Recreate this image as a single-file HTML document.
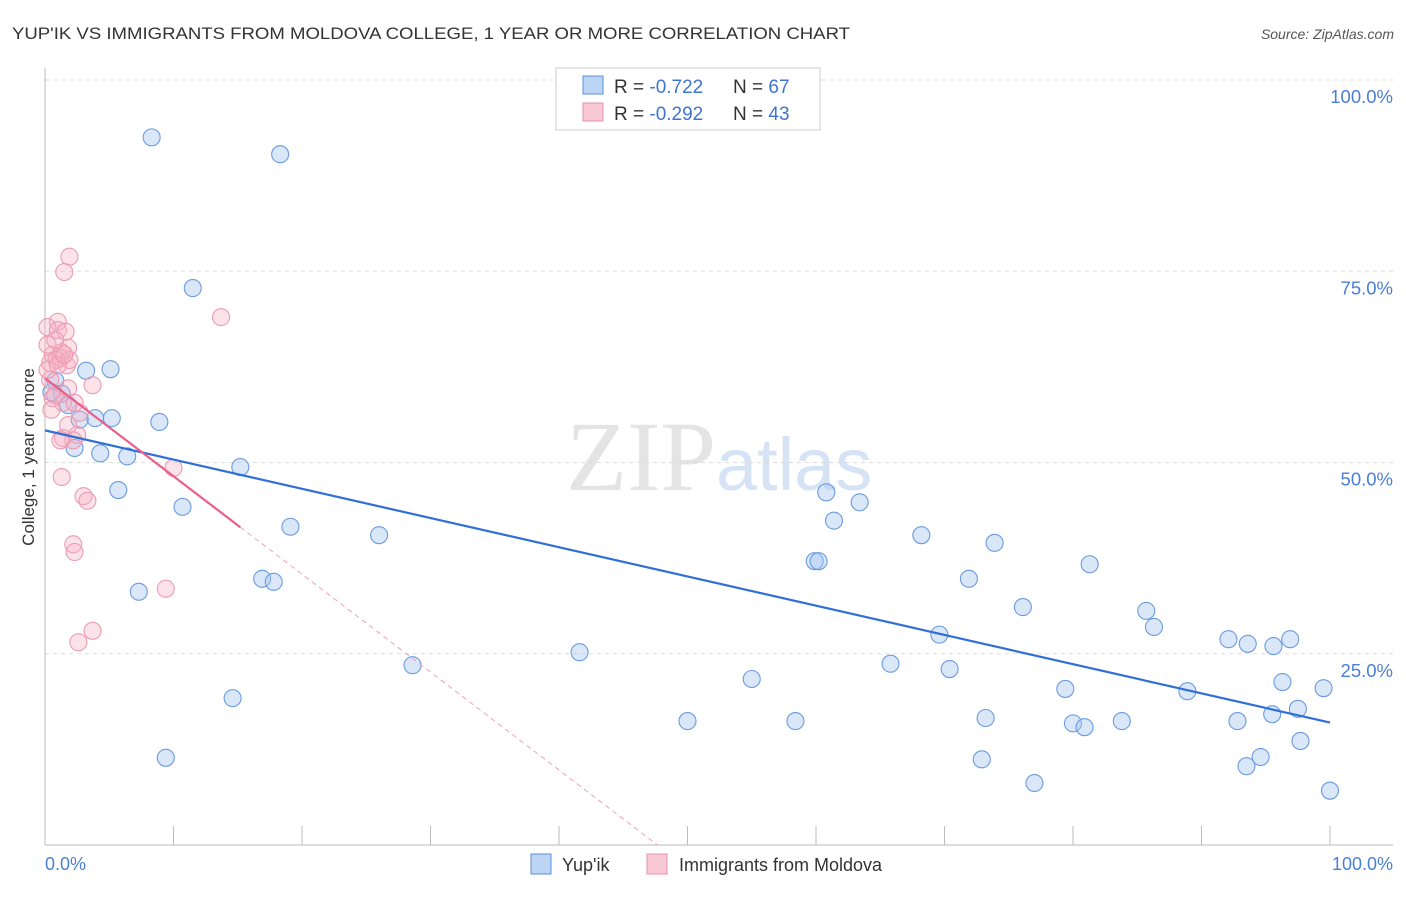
<!DOCTYPE html>
<html><head><meta charset="utf-8"><style>
body{margin:0;background:#fff;font-family:"Liberation Sans",sans-serif;}
</style></head><body>
<svg width="1406" height="892" xmlns="http://www.w3.org/2000/svg" id="chart">
<text x="12" y="39" font-size="17" fill="#333" textLength="838" lengthAdjust="spacingAndGlyphs">YUP'IK VS IMMIGRANTS FROM MOLDOVA COLLEGE, 1 YEAR OR MORE CORRELATION CHART</text>
<text x="1394" y="39" font-size="14" fill="#555" font-style="italic" text-anchor="end">Source: ZipAtlas.com</text>
<text x="716" y="490" font-size="100" fill="#e4e4e4" font-family="Liberation Serif,serif" text-anchor="end">ZIP</text>
<text x="716" y="490" font-size="74" fill="#d6e3f5">atlas</text>
<g id="grid"></g>
<line x1="45" y1="68" x2="45" y2="845" stroke="#bbb"/>
<line x1="45" y1="845" x2="1393" y2="845" stroke="#bbb"/>
<text x="34" y="457" font-size="17" fill="#333" text-anchor="middle" transform="rotate(-90 34 457)">College, 1 year or more</text>
<text x="45" y="870" font-size="18" fill="#4a7fd6">0.0%</text>
<text x="1393" y="870" font-size="18" fill="#4a7fd6" text-anchor="end">100.0%</text>
<g id="pts"></g>
<g id="trends"></g>
<g>
<rect x="556" y="68" width="264" height="62" fill="#fff" stroke="#ccc"/>
<rect x="583" y="76" width="20" height="18" fill="#bcd5f5" stroke="#5a8fd8"/>
<text x="614" y="93" font-size="19" fill="#333">R = <tspan fill="#3f74d0">-0.722</tspan></text>
<text x="733" y="93" font-size="19" fill="#333">N = <tspan fill="#3f74d0">67</tspan></text>
<rect x="583" y="103" width="20" height="18" fill="#f9c8d6" stroke="#e890a8"/>
<text x="614" y="120" font-size="19" fill="#333">R = <tspan fill="#3f74d0">-0.292</tspan></text>
<text x="733" y="120" font-size="19" fill="#333">N = <tspan fill="#3f74d0">43</tspan></text>
</g>
<g>
<rect x="531" y="854" width="20" height="20" fill="#bcd5f5" stroke="#5a8fd8"/>
<text x="562" y="871" font-size="18" fill="#333">Yup'ik</text>
<rect x="647" y="854" width="20" height="20" fill="#f9c8d6" stroke="#e890a8"/>
<text x="679" y="871" font-size="18" fill="#333">Immigrants from Moldova</text>
</g>
</svg>
<script>
const yTicks=[25,50,75,100];
const yTickLabels=["25.0%","50.0%","75.0%","100.0%"];
const xTicks=[0,10,20,30,40,50,60,70,80,90,100];
const blueX=[8.3,18.3,11.5,5.1,3.2,0.8,1.3,1.8,3.9,5.2,2.7,8.9,4.3,6.4,2.3,15.2,5.7,10.7,19.1,26.0,7.3,16.9,17.8,14.6,9.4,28.6,41.6,55.0,50.0,58.4,60.8,63.4,61.4,59.9,60.2,68.2,73.9,71.9,81.3,76.1,69.6,65.8,70.4,85.7,86.3,79.4,88.9,73.2,80.0,80.9,83.8,72.9,77.0,92.1,93.6,95.6,96.9,96.3,99.5,95.5,97.5,92.8,97.7,94.6,93.5,100,0.5];
const blueY=[92.5,90.3,72.8,62.2,62.0,60.7,59.0,57.5,55.8,55.8,55.6,55.3,51.2,50.8,51.9,49.4,46.4,44.2,41.6,40.5,33.1,34.8,34.4,19.2,11.4,23.5,25.2,21.7,16.2,16.2,46.1,44.8,42.4,37.1,37.1,40.5,39.5,34.8,36.7,31.1,27.5,23.7,23.0,30.6,28.5,20.4,20.1,16.6,15.9,15.4,16.2,11.2,8.1,26.9,26.3,26.0,26.9,21.3,20.5,17.1,17.8,16.2,13.6,11.5,10.3,7.1,59.2];
const pinkX=[1.9,1.5,13.7,1.0,0.2,1.0,1.8,0.6,1.2,0.4,1.7,3.7,1.8,0.6,1.4,2.7,2.5,1.4,2.2,10.0,1.3,3.0,3.3,2.2,2.3,9.4,3.7,2.6,0.2,0.4,0.8,1.2,1.3,0.9,1.6,0.2,1.9,2.3,0.5,1.0,1.5,0.8,1.8];
const pinkY=[76.9,74.9,69.0,68.4,67.7,67.3,65.0,64.1,63.7,63.0,62.7,60.1,59.7,58.4,57.8,56.5,53.6,53.2,52.9,49.3,48.1,45.6,45.0,39.3,38.3,33.5,28.0,26.5,65.4,60.8,58.8,52.9,64.4,63.4,67.1,62.1,63.4,57.8,56.9,62.7,64.1,66.0,54.9];
const blueTrend=[54.2,16.0];
const pinkTrend=[61.0,-1.28];
const pinkSolidEnd=15.2;
const NS="http://www.w3.org/2000/svg";
const sx=v=>45+v*12.85, sy=v=>845-v*7.65;
function mk(tag,attrs,parent){const e=document.createElementNS(NS,tag);for(const k in attrs)e.setAttribute(k,attrs[k]);parent.appendChild(e);return e;}
const grid=document.getElementById('grid');
yTicks.forEach((t,i)=>{
 const l=mk('line',{x1:45,x2:1393,y1:sy(t),y2:sy(t),stroke:'#ddd','stroke-dasharray':'4,4'},grid);
 
 
 const tx=mk('text',{x:1393,y:sy(t)+23,'font-size':18.5,fill:'#4a7fd6','text-anchor':'end'},grid);
 tx.textContent=yTickLabels[i];
 
 
});
xTicks.forEach(t=>{
 const l=mk('line',{x1:sx(t),x2:sx(t),y1:826,y2:845,stroke:'#bbb'},grid);
 
 
});
const pts=document.getElementById('pts');
blueX.forEach((x,i)=>{
 const c=mk('circle',{cx:sx(x),cy:sy(blueY[i]),r:8.5,fill:'rgba(165,198,240,0.42)',stroke:'#6a9be0','stroke-width':1.1},pts);
 
 
});
pinkX.forEach((x,i)=>{
 const c=mk('circle',{cx:sx(x),cy:sy(pinkY[i]),r:8.5,fill:'rgba(245,175,195,0.35)',stroke:'#eb9bb2','stroke-width':1.1},pts);
 
 
});
const tr=document.getElementById('trends');
const b=mk('line',{x1:sx(0),y1:sy(blueTrend[0]),x2:sx(100),y2:sy(blueTrend[1]),stroke:'#2f6fd6','stroke-width':2.2},tr);


const pe=pinkTrend[0]+pinkTrend[1]*pinkSolidEnd, zx=-pinkTrend[0]/pinkTrend[1];
const p=mk('line',{x1:sx(0),y1:sy(pinkTrend[0]),x2:sx(pinkSolidEnd),y2:sy(pe),stroke:'#e8608a','stroke-width':2.2},tr);


const pd=mk('line',{x1:sx(pinkSolidEnd),y1:sy(pe),x2:sx(zx),y2:sy(0),stroke:'#f0a0b8','stroke-width':1,'stroke-dasharray':'5,4'},tr);


</script>
</body></html>
